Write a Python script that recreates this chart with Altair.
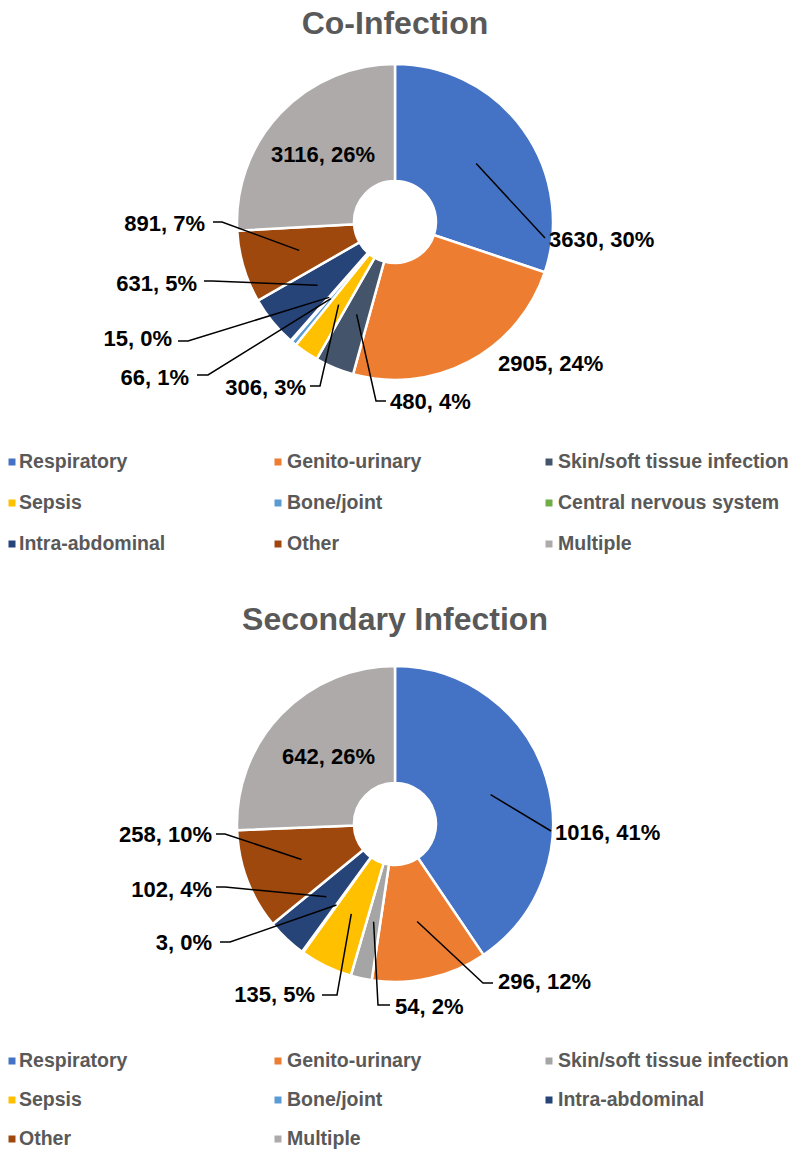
import math
import altair as alt
import pandas as pd

# ---------------- data ----------------
co_cats = ["Respiratory", "Genito-urinary", "Skin/soft tissue infection", "Sepsis",
           "Bone/joint", "Central nervous system", "Intra-abdominal", "Other", "Multiple"]
co_vals = [3630, 2905, 480, 306, 66, 15, 631, 891, 3116]

sec_cats = ["Respiratory", "Genito-urinary", "Skin/soft tissue infection", "Sepsis",
            "Bone/joint", "Intra-abdominal", "Other", "Multiple"]
sec_vals = [1016, 296, 54, 135, 3, 102, 258, 642]

titles = ["Co-Infection", "Secondary Infection"]

# ---------------- styles / layout ----------------
co_colors = {"Respiratory": "#4472C4", "Genito-urinary": "#ED7D31",
             "Skin/soft tissue infection": "#44546A", "Sepsis": "#FFC000",
             "Bone/joint": "#5B9BD5", "Central nervous system": "#70AD47",
             "Intra-abdominal": "#264478", "Other": "#9E480E", "Multiple": "#AEAAAA"}
sec_colors = dict(co_colors)
sec_colors["Skin/soft tissue infection"] = "#A5A5A5"

M = 8                      # page margin
W, H = 784, 1142
R_IN, R_OUT, R_LEAD = 41, 158, 100

# label placement (page pixels): align, text anchor, leader path after slice point
co_layout = {
    "center": (395, 222), "title_y": 24, "legend_y": [462, 503, 544],
    "labels": {
        "Respiratory": ("left", (549, 240), [(545, 238)]),
        "Genito-urinary": ("left", (498, 364), None),
        "Skin/soft tissue infection": ("left", (390, 402), [(376, 401), (386, 401)]),
        "Sepsis": ("right", (306, 388), [(320, 386), (310, 386)]),
        "Bone/joint": ("right", (189, 378), [(208, 375), (197, 375)]),
        "Central nervous system": ("right", (172, 339), [(188, 341), (178, 341)]),
        "Intra-abdominal": ("right", (197, 284), [(212, 281), (204, 281)]),
        "Other": ("right", (205, 224), [(222, 222), (213, 222)]),
        "Multiple": ("right", (375, 155), None),
    },
}
sec_layout = {
    "center": (395, 824), "title_y": 620, "legend_y": [1061, 1100, 1139],
    "labels": {
        "Respiratory": ("left", (555, 833), [(551, 831)]),
        "Genito-urinary": ("left", (498, 982), [(483, 983), (493, 983)]),
        "Skin/soft tissue infection": ("left", (395, 1007), [(378, 1005), (390, 1005)]),
        "Sepsis": ("right", (315, 995), [(337, 995), (322, 995)]),
        "Bone/joint": ("right", (212, 943), [(230, 942), (220, 942)]),
        "Intra-abdominal": ("right", (212, 890), [(225, 887), (216, 887)]),
        "Other": ("right", (212, 835), [(225, 834), (216, 834)]),
        "Multiple": ("right", (375, 757), None),
    },
}
legend_sym_x = [12, 278, 549]
legend_txt_x = [19, 287, 558]

FONT = "Liberation Sans"

arc_frames, label_rows, lead_rows, leg_sym, leg_txt, title_rows = [], [], [], [], [], []
for p, (cats, vals, colors, lay, title) in enumerate([
        (co_cats, co_vals, co_colors, co_layout, titles[0]),
        (sec_cats, sec_vals, sec_colors, sec_layout, titles[1])]):
    total = sum(vals)
    cx, cy = lay["center"]
    arc_frames.append(pd.DataFrame({"cat": cats, "value": vals,
                                    "idx": list(range(len(cats))),
                                    "color": [colors[c] for c in cats]}))
    title_rows.append({"x": cx - M, "y": lay["title_y"] - M, "text": title})
    cum = 0
    for i, (c, v) in enumerate(zip(cats, vals)):
        align, (lx, ly), path = lay["labels"][c]
        label_rows.append({"x": lx - M, "y": ly - M, "align": align,
                           "text": f"{v}, {round(100 * v / total)}%"})
        ang = 2 * math.pi * (cum + v / 2) / total
        cum += v
        if path:
            pts = [(cx + R_LEAD * math.sin(ang), cy - R_LEAD * math.cos(ang))] + path
            for s, (px, py) in enumerate(pts):
                lead_rows.append({"id": f"{p}-{i}", "seq": s, "x": px - M, "y": py - M})
        col, row = i % 3, i // 3
        leg_sym.append({"x": legend_sym_x[col] - M, "y": lay["legend_y"][row] - M,
                        "color": colors[c]})
        leg_txt.append({"x": legend_txt_x[col] - M, "y": lay["legend_y"][row] - M,
                        "text": c})

labels = pd.DataFrame(label_rows)
leads = pd.DataFrame(lead_rows)

X = lambda: alt.X("x:Q", scale=alt.Scale(domain=[0, W], nice=False, zero=False), axis=None)
Y = lambda: alt.Y("y:Q", scale=alt.Scale(domain=[0, H], nice=False, zero=False, reverse=True),
                  axis=None)

layers = []
for p, df in enumerate(arc_frames):
    cx, cy = [co_layout, sec_layout][p]["center"]
    layers.append(
        alt.Chart(df)
        .transform_joinaggregate(total="sum(value)")
        .transform_calculate(frac="datum.value / datum.total")
        .mark_arc(innerRadius=R_IN, outerRadius=R_OUT, stroke="white", strokeWidth=2.5)
        .encode(theta=alt.Theta("frac:Q", stack=True, scale=alt.Scale(domain=[0, 1])),
                order=alt.Order("idx:Q"),
                color=alt.Color("color:N", scale=None),
                x=alt.value(cx - M), y=alt.value(cy - M))
    )

layers.append(
    alt.Chart(leads).mark_line(color="black", strokeWidth=1.5)
    .encode(x=X(), y=Y(), detail="id:N", order="seq:Q")
)
for al in ["left", "right"]:
    layers.append(
        alt.Chart(labels[labels["align"] == al])
        .mark_text(align=al, baseline="middle", font=FONT, fontWeight="bold",
                   fontSize=22, color="black")
        .encode(x=X(), y=Y(), text="text:N")
    )
layers.append(
    alt.Chart(pd.DataFrame(title_rows))
    .mark_text(align="center", baseline="middle", font=FONT, fontWeight="bold",
               fontSize=32, color="#595959")
    .encode(x=X(), y=Y(), text="text:N")
)
layers.append(
    alt.Chart(pd.DataFrame(leg_sym)).mark_square(size=49, opacity=1)
    .encode(x=X(), y=Y(), color=alt.Color("color:N", scale=None))
)
layers.append(
    alt.Chart(pd.DataFrame(leg_txt))
    .mark_text(align="left", baseline="middle", font=FONT, fontWeight="bold",
               fontSize=19.5, color="#595959")
    .encode(x=X(), y=Y(), text="text:N")
)

chart = (
    alt.layer(*layers)
    .properties(width=W, height=H, padding=0, autosize=alt.AutoSizeParams(type="none"))
    .configure_view(stroke=None)
)

chart.save("out.html", embed_options={"renderer": "svg", "actions": False})
